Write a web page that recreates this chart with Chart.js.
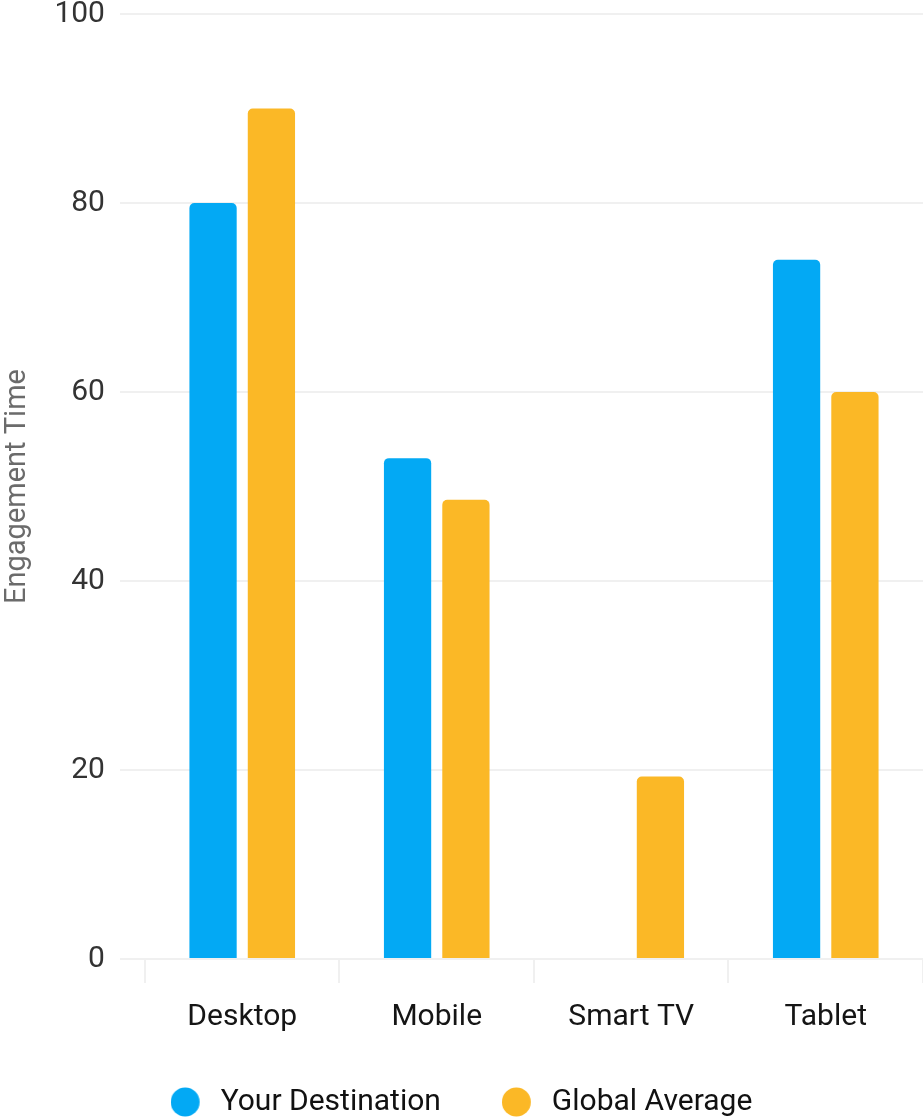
<!DOCTYPE html>
<html>
<head>
<meta charset="utf-8">
<script src="https://cdn.jsdelivr.net/npm/chart.js@4"></script>
<style>
html,body{margin:0;padding:0;background:#fff;}
#wrap{width:923px;height:1118px;position:relative;}
</style>
</head>
<body>
<div id="wrap"><canvas id="c"></canvas></div>
<script>
const categories = ['Desktop', 'Mobile', 'Smart TV', 'Tablet'];
const yourDestination = [80, 53, null, 74];
const globalAverage = [90, 48.6, 19.3, 60];
const seriesNames = ['Your Destination', 'Global Average'];
const seriesColors = ['#03A9F4', '#FBB826'];
const yTitle = 'Engagement Time';
const yTicks = [0, 20, 40, 60, 80, 100];

Chart.defaults.font.family = 'Roboto, "Noto Sans", sans-serif';

// legend dot images (circle placed at the left of a 35px wide box)
function makeDot(color) {
  const cv = document.createElement('canvas');
  cv.width = 35; cv.height = 30;
  const g = cv.getContext('2d');
  g.fillStyle = color;
  g.beginPath();
  g.arc(14.5, 15, 14.5, 0, Math.PI * 2);
  g.fill();
  return cv;
}
const dots = seriesColors.map(makeDot);

new Chart(document.getElementById('c'), {
  type: 'bar',
  data: {
    labels: categories,
    datasets: [
      { label: seriesNames[0], data: yourDestination, backgroundColor: seriesColors[0], borderRadius: 5,
        categoryPercentage: 0.6, barPercentage: 0.81 },
      { label: seriesNames[1], data: globalAverage, backgroundColor: seriesColors[1], borderRadius: 5,
        categoryPercentage: 0.6, barPercentage: 0.81 }
    ]
  },
  options: {
    responsive: true,
    maintainAspectRatio: false,
    animation: false,
    devicePixelRatio: 1,
    layout: { padding: { top: 0, right: 0, bottom: -9, left: 0 } },
    plugins: {
      legend: {
        position: 'bottom',
        title: { display: true, text: '', font: { size: 1, lineHeight: 0 }, padding: { top: -25, bottom: 0 } },
        labels: {
          usePointStyle: true,
          pointStyleWidth: 35,
          boxHeight: 29,
          padding: 61,
          color: '#111',
          font: { size: 30 },
          generateLabels(chart) {
            const items = Chart.defaults.plugins.legend.labels.generateLabels(chart);
            items.forEach((it, i) => { it.pointStyle = dots[i % dots.length]; });
            return items;
          }
        }
      },
      tooltip: { enabled: false }
    },
    scales: {
      x: {
        grid: { drawOnChartArea: false, color: '#f0f0f0', lineWidth: 2, tickLength: 24, offset: true },
        border: { display: false },
        ticks: { color: '#151515', font: { size: 30 }, padding: 16 }
      },
      y: {
        min: yTicks[0], max: yTicks[yTicks.length - 1],
        ticks: { stepSize: yTicks[1] - yTicks[0], color: '#333', font: { size: 30 }, padding: 15 },
        grid: { color: '#f0f0f0', lineWidth: 2, tickLength: 25 },
        border: { display: false },
        title: { display: true, text: yTitle, color: '#6b6b6b', font: { size: 29 }, padding: { top: 0, bottom: 4.6 } },
        afterFit(scale) { scale.paddingTop = 14; }
      }
    }
  }
});
</script>
</body>
</html>
